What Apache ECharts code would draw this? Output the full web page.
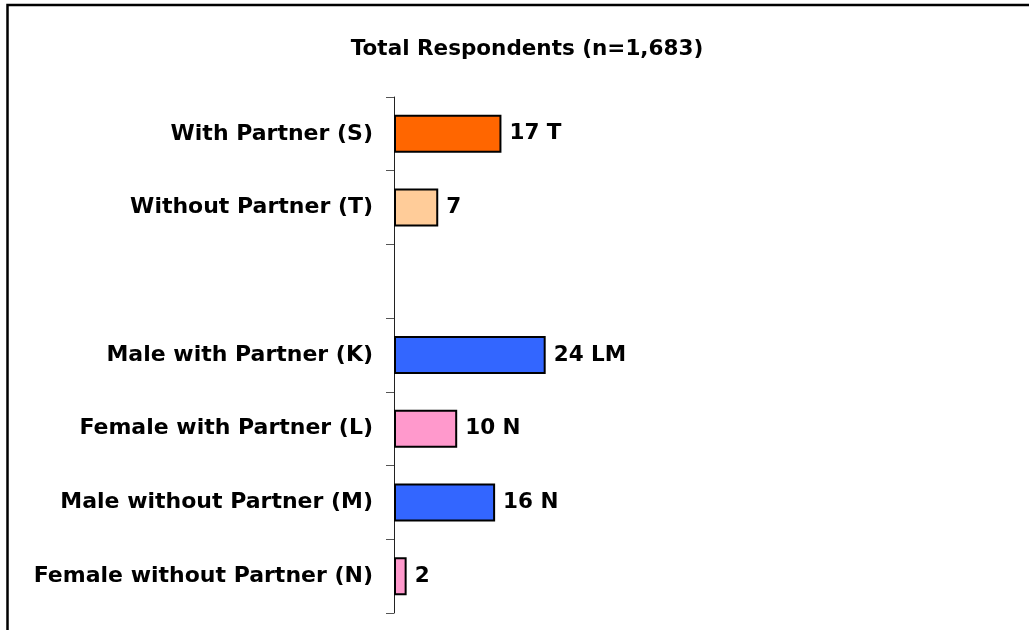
<!DOCTYPE html>
<html>
<head>
<meta charset="utf-8">
<script src="https://cdn.jsdelivr.net/npm/echarts@6/dist/echarts.min.js"></script>
<style>
  html, body { margin: 0; padding: 0; background: #fff; }
  #chart { width: 1029px; height: 630px; }
</style>
</head>
<body>
<div id="chart"></div>
<script>
// chart data
var titleText = 'Total Respondents (n=1,683)'
var categories = ['With Partner (S)', 'Without Partner (T)', '', 'Male with Partner (K)', 'Female with Partner (L)', 'Male without Partner (M)', 'Female without Partner (N)']
var values = [17, 7, null, 24, 10, 16, 2]
var sigLetters = ['T', '', '', 'LM', 'N', 'N', '']
var barColors = ['#ff6600', '#ffcc99', '#ffffff', '#3366ff', '#ff99cc', '#3366ff', '#ff99cc']

var font = 'DejaVu Sans'
var chart = echarts.init(document.getElementById('chart'))

chart.setOption({
  animation: false,
  backgroundColor: '#fff',
  title: {
    text: titleText,
    left: 522,
    top: 33,
    textAlign: 'center',
    textStyle: { fontFamily: font, fontSize: 21.5, fontWeight: 'bold', color: '#000' }
  },
  graphic: [{
    type: 'rect',
    shape: { x: 7.5, y: 5, width: 1200, height: 800 },
    style: { fill: 'none', stroke: '#000', lineWidth: 2.5 },
    silent: true
  }],
  grid: {
    left: 394,
    top: 97,
    width: 632,
    height: 516
  },
  xAxis: {
    type: 'value',
    min: 0,
    max: 100,
    show: false
  },
  yAxis: {
    type: 'category',
    inverse: true,
    data: categories,
    axisLine: { show: true, lineStyle: { color: '#222', width: 1 } },
    axisTick: { show: true, length: 8, lineStyle: { color: '#555', width: 1 } },
    axisLabel: {
      margin: 21,
      fontFamily: font,
      fontSize: 22,
      fontWeight: 'bold',
      color: '#000'
    }
  },
  series: [{
    type: 'bar',
    barWidth: 38,
    data: values.map(function (v, i) {
      return {
        value: v,
        itemStyle: { color: barColors[i], borderColor: '#000', borderWidth: 2 }
      }
    }),
    label: {
      show: true,
      position: 'right',
      distance: 8,
      fontFamily: font,
      fontSize: 21.5,
      fontWeight: 'bold',
      color: '#000',
      formatter: function (p) {
        if (p.value == null) return ''
        var s = sigLetters[p.dataIndex]
        return s ? p.value + ' ' + s : String(p.value)
      }
    }
  }]
})
</script>
</body>
</html>
